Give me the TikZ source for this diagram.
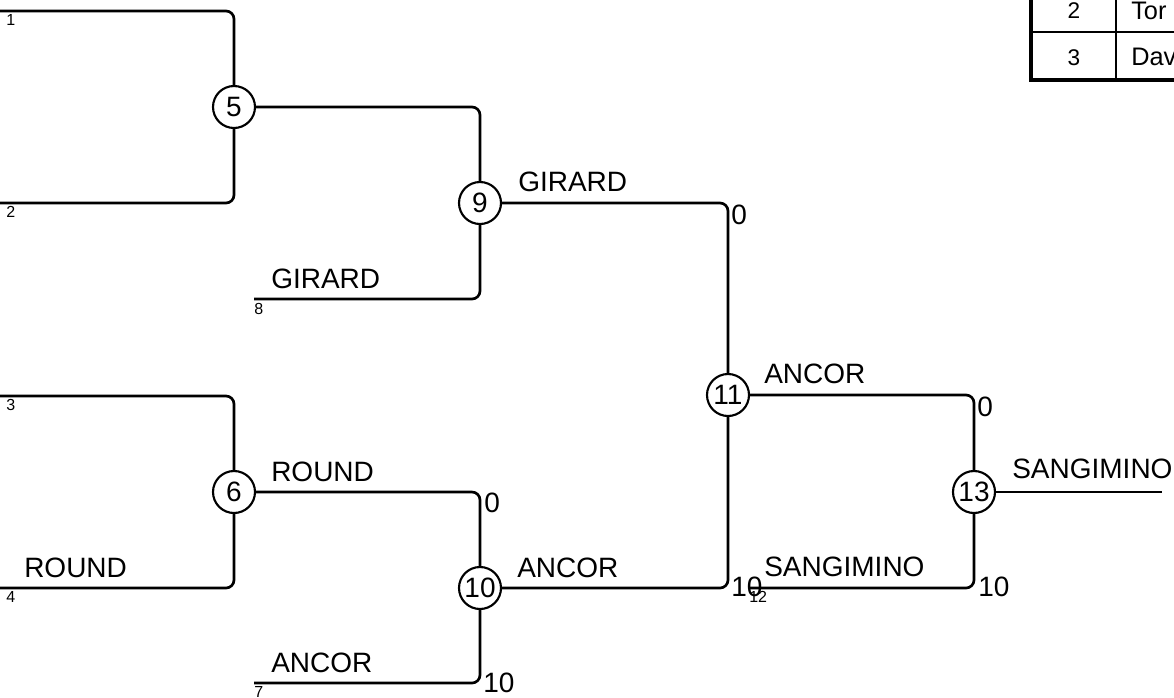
\documentclass[tikz,border=0pt]{standalone}
\usepackage{fontspec}
\setmainfont{Liberation Sans}
\begin{document}
\begin{tikzpicture}[
  x=0.75pt, y=-0.75pt,
  wire/.style={line width=2pt, rounded corners=6pt},
  game/.style={draw, circle, line width=1.6pt, minimum size=31.5pt, inner sep=0pt, font=\fontsize{21}{24}\selectfont},
  team/.style={anchor=base west, inner sep=0pt, font=\fontsize{21}{24}\selectfont},
  score/.style={inner sep=0pt, font=\fontsize{21}{24}\selectfont},
  seed/.style={anchor=north west, inner sep=0pt, font=\fontsize{12}{14}\selectfont},
  cell/.style={anchor=base, inner sep=0pt, font=\fontsize{17}{20}\selectfont},
  who/.style={anchor=base west, inner sep=0pt, font=\fontsize{19}{22}\selectfont}
]
\useasboundingbox (0,0) rectangle (1174,697);

% games
\node[game] (n5) at (234,107) {5};
\node[game] (n6) at (234,492) {6};
\node[game] (n9) at (480,203) {9};
\node[game] (n10) at (480,588) {10};
\node[game] (n11) at (728,395) {11};
\node[game] (n13) at (974,492) {13};

% entries
\coordinate (l1) at (0,11);
\coordinate (l2) at (0,203);
\coordinate (l3) at (0,396);
\coordinate (l4) at (0,588);
\coordinate (l7) at (254,683);
\coordinate (l8) at (254,299);
\coordinate (l12) at (750,588);
\coordinate (win) at (1162,492);

\draw[wire] (l1) -| (n5);
\draw[wire] (l2) -| (n5);
\draw[wire] (l3) -| (n6);
\draw[wire] (l4) -| (n6);
\draw[wire] (n5) -| (n9);
\draw[wire] (l8) -| (n9);
\draw[wire] (n6) -| (n10);
\draw[wire] (l7) -| (n10);
\draw[wire] (n9) -| (n11);
\draw[wire] (n10) -| (n11);
\draw[wire] (n11) -| (n13);
\draw[wire] (l12) -| (n13);
\draw[wire] (n13) -- (win);

% seeds
\node[seed] (s1) at (6,14) {1};
\node[seed] (s2) at (6,206) {2};
\node[seed] (s3) at (6,399) {3};
\node[seed] (s4) at (6,591) {4};
\node[seed] (s7) at (254,686) {7};
\node[seed] (s8) at (254,303) {8};
\node[seed] (s12) at (749,591) {12};

% teams
\node[team] (t8) at (271,288) {GIRARD};
\node[team] (t9) at (518,191) {GIRARD};
\node[team] (t4) at (24,577) {ROUND};
\node[team] (t6) at (271,481) {ROUND};
\node[team] (t7) at (271,672) {ANCOR};
\node[team] (t10) at (517,577) {ANCOR};
\node[team] (t11) at (764,383) {ANCOR};
\node[team] (t12) at (764,576) {SANGIMINO};
\node[team] (t13) at (1012,478) {SANGIMINO};

% scores
\node[score, anchor=north west] (p9) at (731,205) {0};
\node[score, anchor=north west] (p6) at (484,493) {0};
\node[score, anchor=north west] (p11) at (977,397) {0};
\node[score, anchor=west] (p7) at (483,683) {10};
\node[score, anchor=west] (p10) at (731,587) {10};
\node[score, anchor=west] (p12) at (978,587) {10};

% seeding table
\begin{scope}
\clip (0,0) rectangle (1174,697);
\draw[line width=1.5pt] (1031,32) -- (1300,32);
\draw[line width=1.5pt] (1116,-20) -- (1116,79);
\draw[line width=3pt] (1031,-20) -- (1031,79.5) -- (1300,79.5);
\node[cell] (c2) at (1074,18) {2};
\node[cell] (c3) at (1074,65) {3};
\node[who] (d2) at (1131,19) {Tor};
\node[who] (d3) at (1131,65) {Dav};
\end{scope}
\end{tikzpicture}
\end{document}
